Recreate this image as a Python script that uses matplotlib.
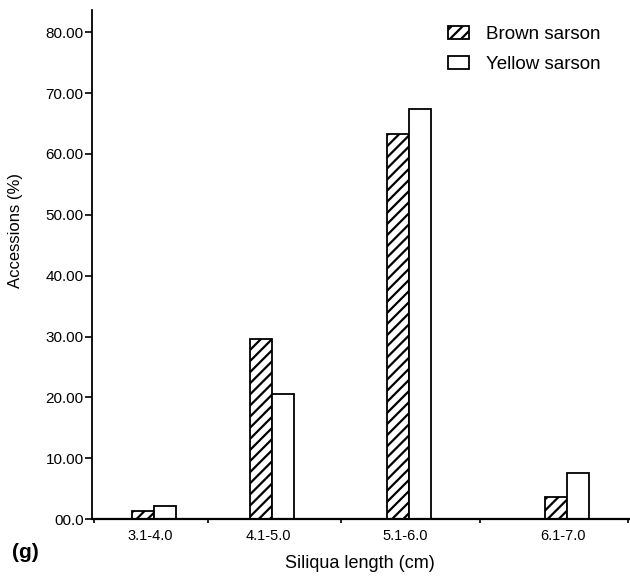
import numpy as np
import matplotlib.pyplot as plt
from matplotlib.ticker import FixedLocator

plt.rcParams['font.family'] = ['Liberation Sans', 'DejaVu Sans']
plt.rcParams['hatch.linewidth'] = 1.6

# siliqua length classes (cm)
clases = ['3.1-4.0', '4.1-5.0', '5.1-6.0', '6.1-7.0']
brown = [1.3, 29.6, 63.3, 3.7]
yellow = [2.1, 20.6, 67.4, 7.5]
ytick_vals = [0, 10, 20, 30, 40, 50, 60, 70, 80]
ytick_txt = ['00.0', '10.00', '20.00', '30.00', '40.00', '50.00', '60.00', '70.00', '80.00']

# group centres and class borders along the axis (0-100, the original is unevenly spaced)
group_x = np.array([11.5, 33.5, 58.9, 88.3])
borders = [0.4, 21.6, 46.3, 72.1, 99.6]
w = 4.1

fig = plt.figure(figsize=(6.3, 5.77), dpi=100)
ax = fig.add_axes([0.146, 0.1005, 0.854, 0.8825])

ax.bar(group_x - w/2, brown, w, color='white', edgecolor='black', hatch='///',
       linewidth=1.3, label='Brown sarson')
ax.bar(group_x + w/2, yellow, w, color='white', edgecolor='black',
       linewidth=1.3, label='Yellow sarson')

ax.set_xlim(0, 100)
ax.set_ylim(0, 83.7)

ax.set_yticks(ytick_vals)
ax.set_yticklabels(ytick_txt, fontsize=11)
ax.tick_params(axis='y', direction='out', length=5, width=1.2, pad=1)

ax.set_xticks(group_x - 0.7)
ax.set_xticklabels(clases, fontsize=10.5)
ax.tick_params(axis='x', which='major', length=0, pad=7)
ax.xaxis.set_minor_locator(FixedLocator(borders))
ax.tick_params(axis='x', which='minor', direction='out', length=3, width=1.2)

for s in ['top', 'right']:
    ax.spines[s].set_visible(False)
ax.spines['left'].set_linewidth(1.3)
ax.spines['bottom'].set_linewidth(1.6)

ax.set_xlabel('Siliqua length (cm)', fontsize=13)
ax.xaxis.set_label_coords((360 - 92) / 538, (519 - 555) / 509)
ax.set_ylabel('Accessions (%)', fontsize=12)
ax.yaxis.set_label_coords((23 - 92) / 538, (519 - 231) / 509)

fig.text(12 / 630, 1 - 552 / 577, '(g)', fontsize=15, fontweight='bold', va='center', ha='left')

leg = ax.legend(loc='upper left', bbox_to_anchor=(448 / 630, 1 - 26 / 577),
                bbox_transform=fig.transFigure, frameon=False, fontsize=13.5,
                handlelength=1.1, handleheight=0.65, handletextpad=0.9,
                labelspacing=0.7, borderpad=0, borderaxespad=0)

fig.savefig('out.png', dpi=100)
